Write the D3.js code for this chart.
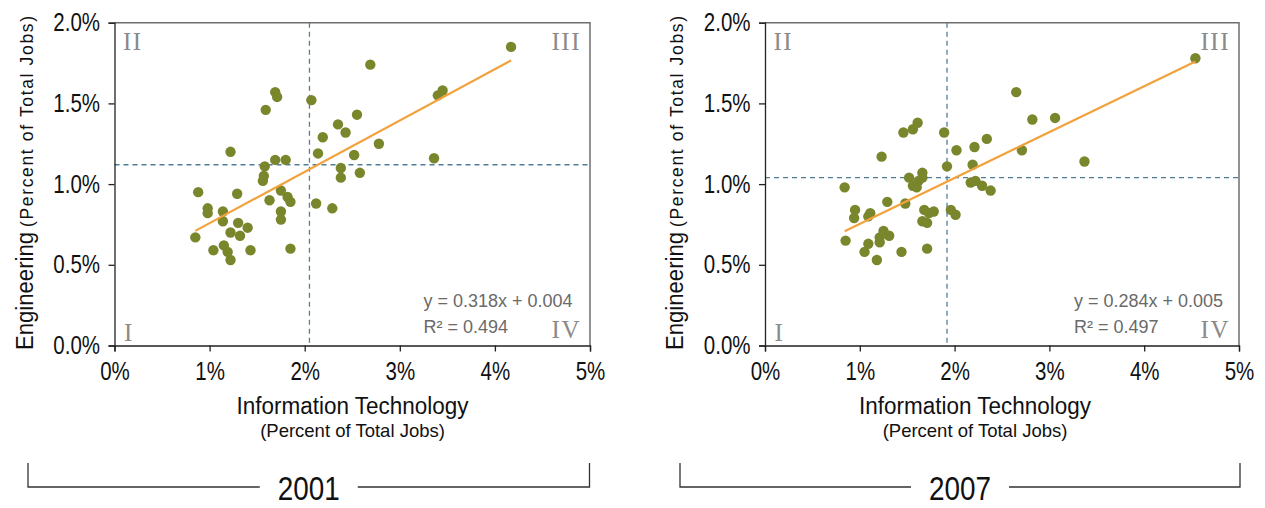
<!DOCTYPE html>
<html>
<head>
<meta charset="utf-8">
<script src="https://cdn.jsdelivr.net/npm/d3@7"></script>
<style>
  html, body { margin: 0; padding: 0; background: #fff; }
  svg { display: block; font-family: "Liberation Sans", Arial, sans-serif; }
</style>
</head>
<body>
<svg id="chart" width="1265" height="508"></svg>
<script>
// Share of total jobs (%) by state: information technology vs. engineering
const years = ["2001", "2007"];

const itShare2001 = [0.85, 0.88, 0.98, 0.98, 1.04, 1.14, 1.14, 1.15, 1.19, 1.22,
                     1.22, 1.22, 1.29, 1.30, 1.32, 1.40, 1.43, 1.57, 1.56, 1.58,
                     1.59, 1.63, 1.69, 1.71, 1.69, 1.80, 1.75, 1.82, 1.85, 1.75,
                     1.75, 1.85, 2.07, 2.12, 2.14, 2.19, 2.29, 2.35, 2.38, 2.38,
                     2.43, 2.52, 2.55, 2.58, 2.69, 2.78, 3.36, 3.40, 3.45, 4.17];
const engShare2001 = [0.67, 0.95, 0.85, 0.82, 0.59, 0.83, 0.77, 0.62, 0.58, 1.20,
                      0.53, 0.70, 0.94, 0.76, 0.68, 0.73, 0.59, 1.05, 1.02, 1.11,
                      1.46, 0.90, 1.57, 1.54, 1.15, 1.15, 0.96, 0.92, 0.89, 0.83,
                      0.78, 0.60, 1.52, 0.88, 1.19, 1.29, 0.85, 1.37, 1.10, 1.04,
                      1.32, 1.18, 1.43, 1.07, 1.74, 1.25, 1.16, 1.55, 1.58, 1.85];

const itShare2007 = [0.84, 0.85, 0.94, 0.95, 1.05, 1.09, 1.11, 1.09, 1.18, 1.21,
                     1.21, 1.23, 1.25, 1.29, 1.31, 1.44, 1.46, 1.48, 1.52, 1.56,
                     1.61, 1.56, 1.60, 1.62, 1.66, 1.66, 1.66, 1.71, 1.68, 1.73,
                     1.78, 1.71, 1.89, 1.92, 1.96, 2.01, 2.02, 2.17, 2.19, 2.21,
                     2.22, 2.29, 2.34, 2.38, 2.65, 2.71, 2.82, 3.06, 3.37, 4.54];
const engShare2007 = [0.98, 0.65, 0.79, 0.84, 0.58, 0.80, 0.82, 0.63, 0.53, 0.67,
                      0.64, 1.17, 0.71, 0.89, 0.68, 0.58, 1.32, 0.88, 1.04, 1.34,
                      1.38, 0.99, 0.98, 1.02, 1.07, 1.04, 0.77, 0.76, 0.84, 0.82,
                      0.83, 0.60, 1.32, 1.11, 0.84, 0.81, 1.21, 1.01, 1.12, 1.23,
                      1.02, 0.99, 1.28, 0.96, 1.57, 1.21, 1.40, 1.41, 1.14, 1.78];

// Linear trend (fractions of total jobs) and fit quality
const trendSlope = [0.318, 0.284];
const trendIntercept = [0.0044, 0.0047];
const rSquared = [0.494, 0.497];

// National averages (%) used to split each plot into quadrants
const avgIt = [2.05, 1.92];
const avgEng = [1.12, 1.04];

const xTicks = [0, 1, 2, 3, 4, 5];
const yTicks = [0, 0.5, 1.0, 1.5, 2.0];
const quadrantNames = ["I", "II", "III", "IV"];

const xTitle = "Information Technology";
const yTitle = "Engineering";
const unitNote = "(Percent of Total Jobs)";

// ---- layout ----
const panels = [
  { left: 114.5, right: 590, top: 22.7, bottom: 345.5, titleX: 33, xTitleCx: 352.5, bracket: [28, 589.5] },
  { left: 765, right: 1239, top: 22.7, bottom: 345.5, titleX: 683, xTitleCx: 975, bracket: [680, 1240] }
];
const series = [
  { x: itShare2001, y: engShare2001 },
  { x: itShare2007, y: engShare2007 }
];

const COLORS = {
  dot: "#7a862c",
  trend: "#f2a23c",
  ref: "#4f7f99",
  axis: "#222",
  frame: "#6e6e6e",
  quad: "#8a8a8a",
  eq: "#6a6a6a",
  text: "#111"
};
const NARROW = 0.82;

const svg = d3.select("#chart");

panels.forEach((L, i) => {
  const sx = d3.scaleLinear().domain([0, 5]).range([L.left, L.right]);
  const sy = d3.scaleLinear().domain([0, 2]).range([L.bottom, L.top]);
  const g = svg.append("g");
  const xs = series[i].x, ys = series[i].y;

  // frame (top and right edges)
  g.append("path")
    .attr("d", `M${L.left},${L.top}H${L.right}V${L.bottom}`)
    .attr("fill", "none").attr("stroke", COLORS.frame).attr("stroke-width", 1.5);

  // average reference lines
  g.append("line")
    .attr("x1", sx(avgIt[i])).attr("x2", sx(avgIt[i]))
    .attr("y1", sy(2)).attr("y2", sy(0))
    .attr("stroke", COLORS.ref).attr("stroke-width", 1.3).attr("stroke-dasharray", "5,4");
  g.append("line")
    .attr("x1", sx(0)).attr("x2", sx(5))
    .attr("y1", sy(avgEng[i])).attr("y2", sy(avgEng[i]))
    .attr("stroke", COLORS.ref).attr("stroke-width", 1.3).attr("stroke-dasharray", "5,4");

  // axes
  const xAxis = d3.axisBottom(sx).tickValues(xTicks).tickSize(6).tickPadding(10.5)
    .tickFormat(d => d + "%");
  const ax = g.append("g").attr("transform", `translate(0,${L.bottom})`).call(xAxis);
  ax.attr("font-family", null).attr("font-size", null);
  ax.selectAll("path, line").attr("stroke", COLORS.axis).attr("stroke-width", 1.3);
  ax.selectAll("text").attr("font-size", 25).attr("fill", COLORS.text)
    .attr("transform", `scale(${NARROW},1)`);

  const yAxis = d3.axisLeft(sy).tickValues(yTicks).tickSize(6).tickPadding(8.5)
    .tickFormat(d => d.toFixed(1) + "%");
  const ay = g.append("g").attr("transform", `translate(${L.left},0)`).call(yAxis);
  ay.attr("font-family", null).attr("font-size", null);
  ay.selectAll("path, line").attr("stroke", COLORS.axis).attr("stroke-width", 1.3);
  ay.selectAll("text").attr("font-size", 25).attr("fill", COLORS.text)
    .attr("x", -14.5 / NARROW).attr("transform", `scale(${NARROW},1)`);

  // data points
  g.append("g").selectAll("circle")
    .data(xs.map((v, k) => [v, ys[k]]))
    .join("circle")
    .attr("cx", d => sx(d[0])).attr("cy", d => sy(d[1]))
    .attr("r", 5.2).attr("fill", COLORS.dot);

  // trend line over the observed range
  const x0 = d3.min(xs), x1 = d3.max(xs);
  const fit = x => trendSlope[i] * x + trendIntercept[i] * 100;
  g.append("line")
    .attr("x1", sx(x0)).attr("y1", sy(fit(x0)))
    .attr("x2", sx(x1)).attr("y2", sy(fit(x1)))
    .attr("stroke", COLORS.trend).attr("stroke-width", 2.2);

  // quadrant numerals
  const quad = [
    { t: quadrantNames[0], x: L.left + 9.5, y: L.bottom - 4.5, a: "start" },
    { t: quadrantNames[1], x: L.left + 8.5, y: L.top + 27.5, a: "start" },
    { t: quadrantNames[2], x: L.right - 9, y: L.top + 27.5, a: "end" },
    { t: quadrantNames[3], x: L.right - 9, y: L.bottom - 7.5, a: "end" }
  ];
  g.append("g").selectAll("text").data(quad).join("text")
    .attr("x", d => d.x).attr("y", d => d.y).attr("text-anchor", d => d.a)
    .attr("font-family", "'Liberation Serif', 'Times New Roman', serif")
    .attr("font-size", 25).attr("letter-spacing", 1.5)
    .attr("fill", COLORS.quad).text(d => d.t);

  // regression equation
  g.append("text").attr("x", L.left + 309).attr("y", 306.7)
    .attr("font-size", 18).attr("fill", COLORS.eq)
    .text(`y = ${trendSlope[i].toFixed(3)}x + ${trendIntercept[i].toFixed(3)}`);
  g.append("text").attr("x", L.left + 309).attr("y", 332.7)
    .attr("font-size", 18).attr("fill", COLORS.eq)
    .text(`R\u00B2 = ${rSquared[i].toFixed(3)}`);

  // x-axis title
  const cx = L.xTitleCx;
  g.append("text").attr("x", cx).attr("y", 414).attr("text-anchor", "middle")
    .attr("font-size", 23.5).attr("fill", COLORS.text)
    .attr("textLength", 232).attr("lengthAdjust", "spacingAndGlyphs")
    .text(xTitle);
  g.append("text").attr("x", cx).attr("y", 436.7).attr("text-anchor", "middle")
    .attr("font-size", 18.5).attr("fill", COLORS.text)
    .text(unitNote);

  // y-axis title (rotated)
  g.append("text").attr("transform", `translate(${L.titleX},350) rotate(-90)`)
    .attr("font-size", 23.5).attr("fill", COLORS.text)
    .attr("textLength", 118).attr("lengthAdjust", "spacingAndGlyphs")
    .text(yTitle);
  g.append("text").attr("transform", `translate(${L.titleX},227) rotate(-90)`)
    .attr("font-size", 17.5).attr("fill", COLORS.text)
    .attr("textLength", 211).attr("lengthAdjust", "spacing")
    .text(unitNote);

  // year bracket
  const [b0, b1] = L.bracket;
  const bm = (b0 + b1) / 2;
  g.append("path")
    .attr("d", `M${b0},463V487H${bm - 49}M${bm + 49},487H${b1}V463`)
    .attr("fill", "none").attr("stroke", "#333").attr("stroke-width", 1.3);
  g.append("text")
    .attr("transform", `translate(${bm},500) scale(${NARROW},1)`)
    .attr("text-anchor", "middle").attr("font-size", 34).attr("fill", COLORS.text)
    .text(years[i]);
});
</script>
</body>
</html>
